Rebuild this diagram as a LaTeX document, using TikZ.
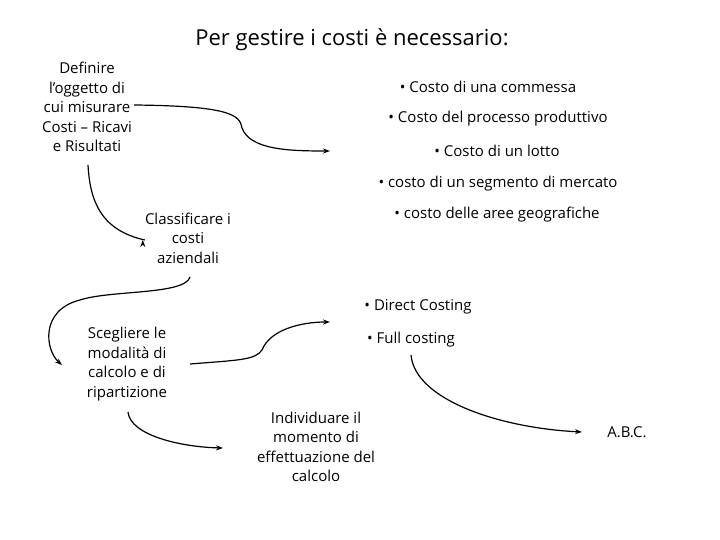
\documentclass[tikz,border=0pt]{standalone}
\usepackage{fontspec}
\setmainfont{Open Sans}
\usetikzlibrary{arrows.meta}
\begin{document}
\begin{tikzpicture}[x=1pt,y=-1pt,
  txt/.style={align=center,inner sep=0pt,font=\fontsize{15}{19.5}\selectfont},
  arr/.style={line width=1.2pt,-{Stealth[length=7pt,width=5pt]}}]
\useasboundingbox (0,0) rectangle (720,540);
\node[inner sep=0pt,font=\fontsize{22}{26}\selectfont] (title) at (352,40) {Per gestire i costi è necessario:};
\node[txt] (def) at (87,107) {Definire\\l’oggetto di\\cui misurare\\Costi – Ricavi\\e Risultati};
\node[txt] (b1) at (488,87) {• Costo di una commessa};
\node[txt] (b2) at (498,119) {• Costo del processo produttivo};
\node[txt] (b3) at (497,151) {• Costo di un lotto};
\node[txt] (b4) at (498,184) {• costo di un segmento di mercato};
\node[txt] (b5) at (497,215) {• costo delle aree geografiche};
\node[txt] (cls) at (188,238) {Classificare i\\costi\\aziendali};
\node[txt] (sce) at (127,364) {Scegliere le\\modalità di\\calcolo e di\\ripartizione};
\node[txt] (dc) at (418,307) {• Direct Costing};
\node[txt] (fc) at (411,340) {• Full costing};
\node[txt] (ind) at (316,447) {Individuare il\\momento di\\effettuazione del\\calcolo};
\node[txt] (abc) at (627,432) {A.B.C.};
\coordinate (t1) at (330,151);
\draw[arr] (def.east) ++(2,-2) .. controls (230,106) and (240,115) .. (242,128) .. controls (250,150) and (290,151) .. (t1);
\draw[arr] (88,165) .. controls (90,200) and (100,230) .. (cls.west |- 0,240) ++(-2,0);
\draw[arr] (190,277) .. controls (185,295) and (110,290) .. (80,300) .. controls (40,310) and (45,350) .. (62,365);
\draw[arr] (190,364) .. controls (240,360) and (255,360) .. (262,350) .. controls (270,330) and (300,322) .. (330,322);
\draw[arr] (128,412) .. controls (130,435) and (180,447) .. (223,448);
\draw[arr] (411,355) .. controls (415,400) and (500,428) .. (582,432);
\end{tikzpicture}
\end{document}
